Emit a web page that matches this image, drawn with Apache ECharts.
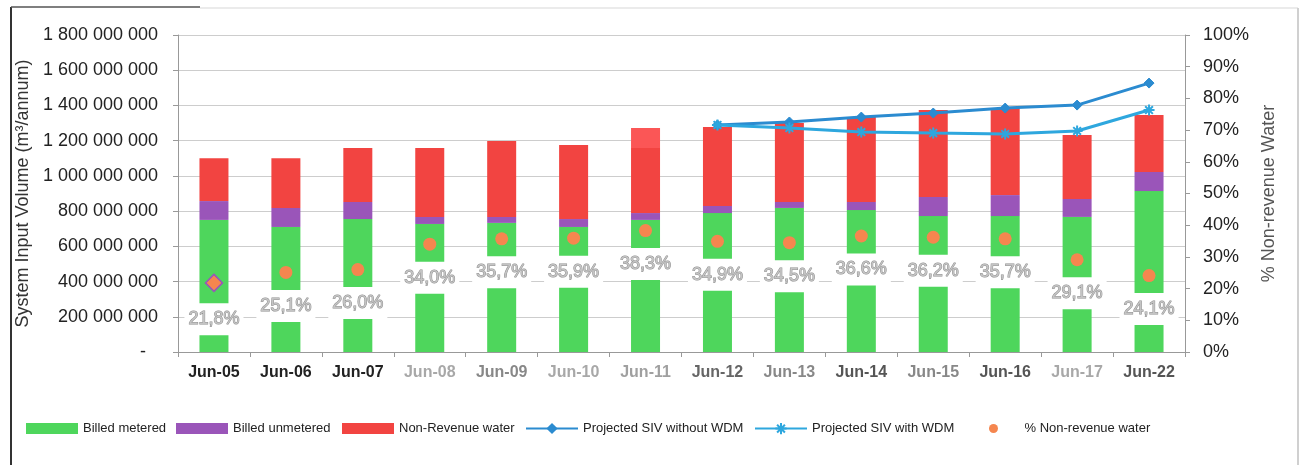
<!DOCTYPE html>
<html>
<head>
<meta charset="utf-8">
<script src="https://cdn.jsdelivr.net/npm/echarts@6/dist/echarts.min.js"></script>
<style>
html,body{margin:0;padding:0;background:#fff;}
#chart{width:1302px;height:465px;}
</style>
</head>
<body>
<div id="chart"></div>
<script>
// ---------- DATA ----------
const categories = ['Jun-05','Jun-06','Jun-07','Jun-08','Jun-09','Jun-10','Jun-11','Jun-12','Jun-13','Jun-14','Jun-15','Jun-16','Jun-17','Jun-22'];
const billedMetered   = [750000000, 710000000, 755000000, 727000000, 733000000, 710000000, 750000000, 789000000, 818000000, 806000000, 772000000, 772000000, 767000000, 914000000];
const billedUnmetered = [107000000, 108000000,  97000000,  40000000,  34000000,  45000000,  39000000,  40000000,  34000000,  46000000, 108000000, 119000000, 102000000, 108000000];
const nonRevenue      = [243000000, 282000000, 306000000, 391000000, 431000000, 420000000, 483000000, 449000000, 448000000, 482000000, 494000000, 494000000, 363000000, 324000000];
const sivWithoutWDM   = [null, null, null, null, null, null, null, 1289000000, 1306000000, 1334000000, 1357000000, 1385000000, 1402000000, 1527000000];
const sivWithWDM      = [null, null, null, null, null, null, null, 1289000000, 1272000000, 1249000000, 1243000000, 1238000000, 1255000000, 1374000000];
const pctNonRevenue   = [21.8, 25.1, 26.0, 34.0, 35.7, 35.9, 38.3, 34.9, 34.5, 36.6, 36.2, 35.7, 29.1, 24.1];
const leftTicks  = [0, 200000000, 400000000, 600000000, 800000000, 1000000000, 1200000000, 1400000000, 1600000000, 1800000000];
const rightTicks = [0, 10, 20, 30, 40, 50, 60, 70, 80, 90, 100];
const seriesNames = ['Billed metered', 'Billed unmetered', 'Non-Revenue water', 'Projected SIV without WDM', 'Projected SIV with WDM', '% Non-revenue water'];

// ---------- STYLE ----------
const C_GREEN = '#4ed65c', C_PURPLE = '#9a55b9', C_RED = '#f24441', C_RED_LIGHT = '#fb5656';
const C_BLUE1 = '#2b8bd0', C_BLUE2 = '#2ea7de', C_ORANGE = '#f5864f';
const labelShade = ['#222','#222','#222','#a8a8a8','#888','#a8a8a8','#a0a0a0','#666','#888','#555','#888','#555','#a8a8a8','#555'];
const FONT = "'Liberation Sans', Arial, sans-serif";
const asterisk = 'path://M5 0 L5 10 M0 5 L10 5 M1.5 1.5 L8.5 8.5 M8.5 1.5 L1.5 8.5';

function fmtSpace(v){
  if (v === 0) return '{d|-}';
  return String(v).replace(/\B(?=(\d{3})+(?!\d))/g, ' ');
}

const chart = echarts.init(document.getElementById('chart'), null, {renderer:'canvas'});

const legendLefts = [26, 176, 342, 525, 754, 989];
const legendHeights = [11, 11, 11, 14, 14, 9];
const legends = seriesNames.map((n, i) => ({
  data: [n],
  left: legendLefts[i],
  top: 422,
  padding: 0,
  itemWidth: 52,
  itemHeight: legendHeights[i],
  itemGap: 0,
  icon: i < 3 ? 'rect' : undefined,
  textStyle: {fontFamily: FONT, fontSize: 13, color: '#222'},
  selectedMode: false
}));

// Jun-11 non-revenue segment shows a lighter top block in the source
const nrwData = nonRevenue.map((v, i) => i === 6 ? {
  value: v,
  itemStyle: {color: {type: 'linear', x: 0, y: 0, x2: 0, y2: 1, colorStops: [
    {offset: 0, color: C_RED_LIGHT}, {offset: 0.235, color: C_RED_LIGHT},
    {offset: 0.236, color: C_RED}, {offset: 1, color: C_RED}]}}
} : v);

const option = {
  backgroundColor: '#fff',
  animation: false,
  legend: legends,
  grid: {left: 178, right: 117, top: 35, bottom: 113, containLabel: false},
  xAxis: [{
    type: 'category',
    data: categories.map((c, i) => ({value: c, textStyle: {color: labelShade[i]}})),
    boundaryGap: true,
    axisLine: {show: true, lineStyle: {color: '#999', width: 1}},
    axisTick: {show: true, inside: false, length: 5, lineStyle: {color: '#999'}},
    axisLabel: {fontFamily: FONT, fontSize: 16, fontWeight: 'bold', margin: 13, interval: 0},
    splitLine: {show: false}
  }],
  yAxis: [{
    type: 'value',
    min: leftTicks[0], max: leftTicks[leftTicks.length - 1], interval: leftTicks[1] - leftTicks[0],
    position: 'left',
    name: 'System Input Volume (m³/annum)',
    nameLocation: 'middle',
    nameGap: 135,
    nameRotate: 90,
    nameTextStyle: {fontFamily: FONT, fontSize: 18, color: '#333'},
    axisLine: {show: true, lineStyle: {color: '#999'}},
    axisTick: {show: true, length: 5, lineStyle: {color: '#999'}},
    axisLabel: {
      fontFamily: FONT, fontSize: 18, color: '#222', margin: 20,
      formatter: fmtSpace,
      rich: {d: {fontFamily: FONT, fontSize: 18, color: '#222', padding: [0, 12, 0, 0]}}
    },
    splitLine: {show: true, lineStyle: {color: '#cdcdcd', width: 1.2}}
  }, {
    type: 'value',
    min: rightTicks[0], max: rightTicks[rightTicks.length - 1], interval: rightTicks[1] - rightTicks[0],
    position: 'right',
    name: '% Non-revenue Water',
    nameLocation: 'middle',
    nameGap: 72,
    nameRotate: 90,
    nameTextStyle: {fontFamily: FONT, fontSize: 18, color: '#555'},
    axisLine: {show: true, lineStyle: {color: '#999'}},
    axisTick: {show: true, length: 5, lineStyle: {color: '#999'}},
    axisLabel: {fontFamily: FONT, fontSize: 18, color: '#222', margin: 18, formatter: '{value}%', padding: [9, 0, 0, 0]},
    splitLine: {show: false}
  }],
  series: [
    {name: seriesNames[0], type: 'bar', stack: 'siv', data: billedMetered, barWidth: 29, itemStyle: {color: C_GREEN}, z: 2},
    {name: seriesNames[1], type: 'bar', stack: 'siv', data: billedUnmetered, barWidth: 29, itemStyle: {color: C_PURPLE}, z: 2},
    {name: seriesNames[2], type: 'bar', stack: 'siv', data: nrwData, barWidth: 29, itemStyle: {color: C_RED}, z: 2},
    {
      name: seriesNames[5], type: 'scatter', yAxisIndex: 1, z: 4,
      data: pctNonRevenue.map((v, i) => i === 0
        ? {value: v, symbol: 'diamond', symbolSize: 17, itemStyle: {color: C_ORANGE, borderColor: C_PURPLE, borderWidth: 1.5, opacity: 1}}
        : v),
      symbol: 'circle', symbolSize: 13,
      itemStyle: {color: C_ORANGE, opacity: 1},
      label: {
        show: true, position: 'bottom', distance: 11,
        formatter: p => p.value.toFixed(1).replace('.', ',') + '%',
        fontFamily: FONT, fontSize: 18, color: '#c4c4c4',
        textBorderColor: '#8e8e8e', textBorderWidth: 1,
        backgroundColor: '#fff', padding: [7, 4], opacity: 1
      }
    },
    {
      name: seriesNames[3], type: 'line', data: sivWithoutWDM, z: 5,
      symbol: 'diamond', symbolSize: 10, showSymbol: true,
      lineStyle: {color: C_BLUE1, width: 3},
      itemStyle: {color: C_BLUE1, borderColor: C_BLUE1}
    },
    {
      name: seriesNames[4], type: 'line', data: sivWithWDM, z: 5,
      symbol: asterisk, symbolSize: 11, showSymbol: true,
      lineStyle: {color: C_BLUE2, width: 3},
      itemStyle: {color: C_BLUE2, borderColor: C_BLUE2, borderWidth: 2}
    }
  ],
  graphic: [
    {type: 'line', shape: {x1: 11, y1: 7, x2: 11, y2: 465}, style: {stroke: '#333', lineWidth: 2}, silent: true},
    {type: 'line', shape: {x1: 11, y1: 7, x2: 200, y2: 7}, style: {stroke: '#555', lineWidth: 1.5}, silent: true},
    {type: 'line', shape: {x1: 200, y1: 8, x2: 1298, y2: 8}, style: {stroke: '#e4e4e4', lineWidth: 1.5}, silent: true},
    {type: 'line', shape: {x1: 1298, y1: 8, x2: 1298, y2: 465}, style: {stroke: '#d0d0d0', lineWidth: 2}, silent: true}
  ]
};
chart.setOption(option);
</script>
</body>
</html>
